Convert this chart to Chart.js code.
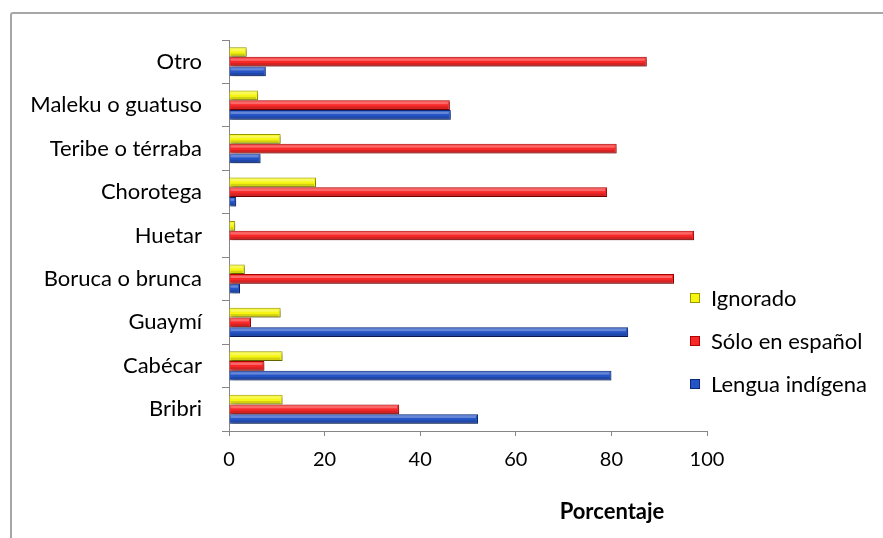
<!DOCTYPE html>
<html lang="es">
<head>
    <meta charset="UTF-8">
    <title>Población indígena según lengua</title>
    <style>
        body {
            margin: 0;
            background: #fff;
            font-family: Lato, "Open Sans", sans-serif;
        }
        .wrap {
            position: relative;
            width: 883px;
            height: 538px;
            overflow: hidden;
        }
        .frame {
            position: absolute;
            left: 10px;
            top: 12px;
            width: 900px;
            height: 560px;
            border-top: 2px solid #a6a6a6;
            border-left: 2px solid #a6a6a6;
            border-top-left-radius: 3px;
        }
        canvas {
            position: absolute;
            left: 0;
            top: 0;
        }
        .axis-title {
            position: absolute;
            left: 612px;
            top: 510px;
            transform: translate(-50%, -50%);
            font-weight: bold;
            font-size: 22px;
            color: #000;
        }
        .legend {
            position: absolute;
            left: 690px;
            top: 289px;
        }
        .legend div {
            height: 43px;
            display: flex;
            align-items: center;
            font-size: 22px;
            color: #000;
            margin-top: -13px;
            margin-bottom: 13px;
        }
        .legend span.box {
            display: inline-block;
            width: 10px;
            height: 10px;
            margin-right: 11px;
            box-sizing: border-box;
        }
    </style>
    <script src="https://cdn.jsdelivr.net/npm/chart.js"></script>
</head>
<body>
    <div class="wrap">
        <div class="frame"></div>
        <canvas id="chart" width="883" height="538"></canvas>
        <div class="axis-title" id="axisTitle"></div>
        <div class="legend" id="legend"></div>
    </div>

    <script>
        // categories, top to bottom
        const categories = ['Otro', 'Maleku o guatuso', 'Teribe o térraba', 'Chorotega', 'Huetar',
            'Boruca o brunca', 'Guaymí', 'Cabécar', 'Bribri'];
        const seriesNames = ['Ignorado', 'Sólo en español', 'Lengua indígena'];
        const ignorado = [3.7, 6.1, 10.8, 18.2, 1.3, 3.3, 10.8, 11.2, 11.2];
        const soloEspanol = [87.4, 46.2, 81.1, 79.1, 97.3, 93.1, 4.6, 7.4, 35.6];
        const lenguaIndigena = [7.7, 46.4, 6.6, 1.5, 0, 2.3, 83.5, 80.0, 52.1];
        const xTicks = [0, 20, 40, 60, 80, 100];
        const xTitle = 'Porcentaje';

        const fills = ['#f6f612', '#f82828', '#2454c6'];
        const edges = ['#9a9a00', '#b00000', '#0c2a7a'];

        // drop shadow + bevel highlight like the spreadsheet bars
        const bevel = {
            id: 'bevel',
            beforeDatasetsDraw(chart) {
                const ctx = chart.ctx;
                ctx.save();
                ctx.shadowColor = 'rgba(0,0,0,0.35)';
                ctx.shadowBlur = 3;
                ctx.shadowOffsetX = 2;
                ctx.shadowOffsetY = 2;
            },
            afterDatasetsDraw(chart) {
                const ctx = chart.ctx;
                ctx.restore();
                ctx.save();
                chart.data.datasets.forEach((ds, i) => {
                    chart.getDatasetMeta(i).data.forEach(bar => {
                        const w = bar.x - bar.base;
                        if (w < 2) return;
                        const top = bar.y - bar.height / 2;
                        ctx.fillStyle = 'rgba(255,255,255,0.3)';
                        ctx.fillRect(bar.base + 1, top + 1.5, w - 3, bar.height * 0.25);
                        ctx.fillStyle = 'rgba(0,0,0,0.15)';
                        ctx.fillRect(bar.base + 1, top + bar.height * 0.65, w - 3, bar.height * 0.3);
                    });
                });
                ctx.restore();
            }
        };

        const chart = new Chart(document.getElementById('chart'), {
            type: 'bar',
            data: {
                labels: categories,
                datasets: [
                    { label: seriesNames[0], data: ignorado },
                    { label: seriesNames[1], data: soloEspanol },
                    { label: seriesNames[2], data: lenguaIndigena }
                ].map((d, i) => Object.assign(d, {
                    backgroundColor: fills[i],
                    borderColor: edges[i],
                    borderWidth: 1,
                    borderSkipped: 'start',
                    categoryPercentage: 0.67,
                    barPercentage: 1.0
                }))
            },
            options: {
                indexAxis: 'y',
                responsive: false,
                animation: false,
                layout: { padding: { top: 40, right: 176, left: 0, bottom: 0 } },
                plugins: {
                    legend: { display: false },
                    tooltip: { enabled: false }
                },
                scales: {
                    x: {
                        min: 0,
                        max: 100,
                        afterBuildTicks: (scale) => { scale.ticks = xTicks.map(v => ({ value: v })); },
                        afterFit: (scale) => { scale.height = 107; },
                        grid: { drawOnChartArea: false, drawTicks: true, tickLength: 5, color: '#868686' },
                        border: { color: '#868686', width: 1 },
                        ticks: { color: '#000', padding: 12, font: { family: 'Lato', size: 20 } }
                    },
                    y: {
                        afterFit: (scale) => { scale.width = 229; },
                        grid: { drawOnChartArea: false, drawTicks: true, tickLength: 7, color: '#868686', offset: true },
                        border: { color: '#868686', width: 1 },
                        ticks: { color: '#000', padding: 20, font: { family: 'Lato', size: 22 } }
                    }
                }
            },
            plugins: [bevel]
        });

        document.getElementById('axisTitle').textContent = xTitle;
        const legend = document.getElementById('legend');
        seriesNames.forEach((name, i) => {
            const row = document.createElement('div');
            const box = document.createElement('span');
            box.className = 'box';
            box.style.background = fills[i];
            box.style.border = '1px solid ' + edges[i];
            row.appendChild(box);
            row.appendChild(document.createTextNode(name));
            legend.appendChild(row);
        });
    </script>
</body>
</html>
